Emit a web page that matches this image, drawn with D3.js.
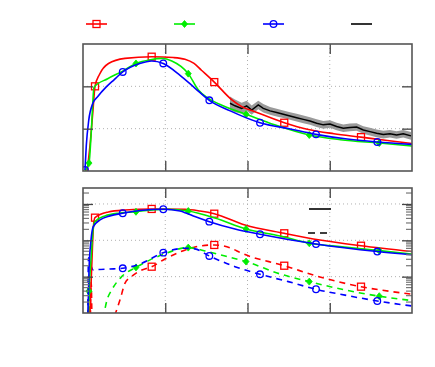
<!DOCTYPE html>
<html>
<head>
<meta charset="utf-8">
<script src="https://cdn.jsdelivr.net/npm/d3@7"></script>
<style>
  body { margin: 0; background: #fff; }
  svg { display: block; }
</style>
</head>
<body>
<div id="chart"></div>
<script>
// ticks (no labels in the picture)
const xTicks = [10, 20, 30];
const topYTicks = [0.5, 1.0];
const botYTicks = [0.01, 0.1, 1];

// [x, y, marker?]  -- upper panel, linear
const redTop = [[0.5,0],[0.85,0.3],[1.2,0.7],[1.46,1.0,1],[2.0,1.14],[3.1,1.27],[5.1,1.33],[8.35,1.35,1],[11.0,1.34],[12.4,1.32],[13.5,1.27],[14.4,1.19],[15.96,1.05,1],[18.1,0.84],[19.3,0.76],[20.9,0.70],[24.47,0.57,1],[27.4,0.49],[30.5,0.44],[33.8,0.40,1],[37,0.36],[40,0.325]];
const greenTop = [[0.24,0],[0.73,0.094,1],[1.0,0.45],[1.34,0.99],[3.0,1.09],[4.83,1.18],[6.44,1.27,1],[8.2,1.315],[9.6,1.33],[10.8,1.30],[12.8,1.15,1],[14.0,0.96],[15.2,0.86],[17.3,0.76],[19.82,0.67,1],[23.3,0.545],[27.51,0.425,1],[31.3,0.37],[36.02,0.33,1],[40,0.295]];
const blueTop = [[0.24,0.012,1],[0.4,0.3],[0.7,0.6],[1.2,0.80],[1.8,0.88],[2.8,0.99],[3.8,1.08],[4.83,1.17,1],[6.9,1.27],[8.35,1.30],[9.76,1.27,1],[11.8,1.13],[13.6,0.98],[15.36,0.835,1],[17.9,0.71],[21.52,0.57,1],[25.2,0.496],[28.33,0.433,1],[31.9,0.38],[35.78,0.343,1],[40,0.315]];
const blackTop = [[17.87,0.80],[18.48,0.77],[19.29,0.74],[19.9,0.77],[20.51,0.72],[21.31,0.78],[21.92,0.74],[22.74,0.71],[23.55,0.69],[24.35,0.67],[25.17,0.65],[25.98,0.63],[26.79,0.61],[27.6,0.59],[28.41,0.565],[29.22,0.545],[30.03,0.555],[30.84,0.525],[31.65,0.505],[32.46,0.515],[33.27,0.52],[34.08,0.485],[34.89,0.465],[35.7,0.445],[36.51,0.43],[37.32,0.44],[38.13,0.425],[38.94,0.44],[39.88,0.415]];
const blackErr = [0.08,0.075,0.065,0.06,0.055,0.05,0.05,0.045,0.045,0.045,0.045,0.045,0.045,0.045,0.045,0.045,0.045,0.045,0.045,0.045,0.045,0.045,0.045,0.045,0.045,0.045,0.045,0.045,0.045];

// lower panel, log scale: solid and dashed
const redLo = [[0.8,5e-4],[1.09,0.029],[1.28,0.26],[1.46,0.42,1],[3.08,0.60],[5.11,0.684],[8.35,0.73,1],[12.4,0.715],[14.23,0.64],[15.96,0.54,1],[19.7,0.264],[24.47,0.156,1],[28.8,0.102],[33.8,0.071,1],[40,0.049]];
const greenLo = [[0.6,5e-4],[0.73,0.004,1],[0.97,0.029],[1.22,0.19],[1.46,0.33],[2.67,0.47],[4.5,0.565],[6.44,0.61,1],[8.75,0.70],[10.34,0.715],[12.8,0.64,1],[16.05,0.41],[19.82,0.205,1],[23.95,0.132],[27.51,0.083,1],[31.5,0.066],[36.02,0.052,1],[40,0.042]];
const blueLo = [[0.57,5e-4],[0.73,0.015],[0.97,0.10],[1.25,0.237],[2.07,0.363],[3.28,0.47],[4.83,0.555,1],[6.93,0.66],[9.76,0.715,1],[11.8,0.64],[12.6,0.555],[13.6,0.45],[15.36,0.326,1],[18.48,0.205],[21.52,0.147,1],[28.33,0.079,1],[35.78,0.049,1],[40,0.04]];
const redDash = [[0.85,1e-4],[1.0,0.007],[1.15,1e-4],[3.8,8e-4],[4.5,0.0023],[5.11,0.0066],[5.84,0.0098],[6.93,0.0144],[8.35,0.0188,1],[9.97,0.0307],[11.79,0.0477],[13.62,0.0656],[15.96,0.0745,1],[17.9,0.062],[19.3,0.044],[24.47,0.020,1],[28.8,0.0098],[33.8,0.0053,1],[40,0.0033]];
const greenDash = [[0.56,1e-4],[0.68,0.009],[0.73,0.004,1],[0.9,1e-4],[2.48,8e-4],[2.92,0.0023],[3.49,0.0043],[4.7,0.01],[6.44,0.018,1],[8.15,0.029],[9.57,0.0395],[12.8,0.063,1],[14.84,0.051],[17.27,0.037],[19.82,0.026,1],[23.95,0.0119],[27.51,0.0073,1],[31.86,0.0043],[36.02,0.0029,1],[40,0.0022]];
const blueDash = [[0.56,1e-4],[0.67,0.033],[0.97,0.0197],[1.25,0.0153],[1.82,0.0157],[3.28,0.0162],[4.83,0.017,1],[7.14,0.0234],[9.76,0.0457,1],[12.4,0.0604],[13.6,0.058],[15.36,0.0371,1],[18.48,0.0188],[21.52,0.0116,1],[24.96,0.0073],[28.33,0.0045,1],[31.86,0.0031],[35.78,0.00214,1],[40,0.00156]];

const RED = "#ff0000", GREEN = "#00ee00", BLUE = "#0000ff";

const w = 435, h = 367;
const left = 83, right = 412;

const svg = d3.select("#chart").append("svg")
  .attr("width", w).attr("height", h);

const x = d3.scaleLinear().domain([0, 40]).range([left, right]);
const yTop = d3.scaleLinear().domain([0, 1.5]).range([171, 44]);
const yBot = d3.scaleLog().domain([0.001, 2.75]).range([313, 188]);

function panel(id, y, yTicks, top, bottom) {
  const g = svg.append("g");
  svg.append("clipPath").attr("id", id)
    .append("rect").attr("x", left).attr("y", top)
    .attr("width", right - left).attr("height", bottom - top);

  // dotted grid
  g.selectAll(".gx").data(xTicks).enter().append("line")
    .attr("x1", d => x(d)).attr("x2", d => x(d))
    .attr("y1", top).attr("y2", bottom)
    .attr("stroke", "#b0b0b0").attr("stroke-dasharray", "1,3");
  g.selectAll(".gy").data(yTicks).enter().append("line")
    .attr("x1", left).attr("x2", right)
    .attr("y1", d => y(d)).attr("y2", d => y(d))
    .attr("stroke", "#b0b0b0").attr("stroke-dasharray", "1,3");
  return g;
}

function frame(y, yTicks, top, bottom, isLog) {
  const g = svg.append("g");
  const tk = (sel) => { sel.select(".domain").remove(); sel.selectAll("line").attr("stroke", "#444").attr("stroke-width", 1.3); };
  g.append("g").attr("transform", `translate(0,${bottom})`)
    .call(d3.axisBottom(x).tickValues(xTicks).tickSize(-10).tickFormat("")).call(tk);
  g.append("g").attr("transform", `translate(0,${top})`)
    .call(d3.axisTop(x).tickValues(xTicks).tickSize(-10).tickFormat("")).call(tk);
  if (isLog) {
    const minor = y.ticks().filter(v => yTicks.indexOf(v) < 0 && v > y.domain()[0]);
    [[left, 1], [right, -1]].forEach(([px, s]) => {
      g.selectAll(null).data(minor).enter().append("line")
        .attr("x1", px).attr("x2", px + 6 * s)
        .attr("y1", d => y(d)).attr("y2", d => y(d))
        .attr("stroke", "#777").attr("stroke-width", 1.2);
    });
  }
  g.append("g").attr("transform", `translate(${left},0)`)
    .call(d3.axisLeft(y).tickValues(yTicks).tickSize(-10).tickFormat("")).call(tk);
  g.append("g").attr("transform", `translate(${right},0)`)
    .call(d3.axisRight(y).tickValues(yTicks).tickSize(-10).tickFormat("")).call(tk);
  g.append("rect").attr("x", left).attr("y", top)
    .attr("width", right - left).attr("height", bottom - top)
    .attr("fill", "none").attr("stroke", "#555").attr("stroke-width", 1.6);
}

function drawMarker(g, type, color, cx, cy) {
  if (type === "square") {
    g.append("rect").attr("x", cx - 3.5).attr("y", cy - 3.5).attr("width", 7).attr("height", 7)
      .attr("fill", "none").attr("stroke", color).attr("stroke-width", 1.3);
  } else if (type === "circle") {
    g.append("circle").attr("cx", cx).attr("cy", cy).attr("r", 3.3)
      .attr("fill", "none").attr("stroke", color).attr("stroke-width", 1.3);
  } else {
    g.append("path").attr("d", `M${cx},${cy - 3.5}L${cx + 3},${cy}L${cx},${cy + 3.5}L${cx - 3},${cy}Z`)
      .attr("fill", color).attr("stroke", color).attr("stroke-width", 0.8);
  }
}

function series(g, data, y, color, type, dashed) {
  const line = d3.line().x(d => x(d[0])).y(d => y(d[1])).curve(d3.curveMonotoneX);
  g.append("path").datum(data).attr("d", line)
    .attr("fill", "none").attr("stroke", color).attr("stroke-width", 1.6)
    .attr("stroke-dasharray", dashed ? "6,5" : null);
  data.filter(d => d[2]).forEach(d => drawMarker(g, type, color, x(d[0]), y(d[1])));
}

// upper panel
panel("clipTop", yTop, topYTicks, 44, 171);
const gt = svg.append("g").attr("clip-path", "url(#clipTop)");
const band = blackTop.map((d, i) => [d[0], d[1] - blackErr[i], d[1] + blackErr[i]]);
gt.append("path").datum(band)
  .attr("d", d3.area().x(d => x(d[0])).y0(d => yTop(d[1])).y1(d => yTop(d[2])))
  .attr("fill", "#9a9a9a");
gt.append("path").datum(blackTop)
  .attr("d", d3.line().x(d => x(d[0])).y(d => yTop(d[1])))
  .attr("fill", "none").attr("stroke", "#000").attr("stroke-width", 1.5);
series(gt, redTop, yTop, RED, "square");
series(gt, greenTop, yTop, GREEN, "diamond");
series(gt, blueTop, yTop, BLUE, "circle");
frame(yTop, topYTicks, 44, 171, false);

// lower panel
panel("clipBot", yBot, botYTicks, 188, 313);
const gb = svg.append("g").attr("clip-path", "url(#clipBot)");
series(gb, redDash, yBot, RED, "square", true);
series(gb, greenDash, yBot, GREEN, "diamond", true);
series(gb, blueDash, yBot, BLUE, "circle", true);
series(gb, redLo, yBot, RED, "square");
series(gb, greenLo, yBot, GREEN, "diamond");
series(gb, blueLo, yBot, BLUE, "circle");
frame(yBot, botYTicks, 188, 313, true);

// legends
const lg = svg.append("g");
[[86, RED, "square"], [174, GREEN, "diamond"], [263, BLUE, "circle"], [351, "#000", null]].forEach(([lx, c, t]) => {
  lg.append("line").attr("x1", lx).attr("x2", lx + 21).attr("y1", 24).attr("y2", 24)
    .attr("stroke", c).attr("stroke-width", 1.6);
  if (t) drawMarker(lg, t, c, lx + 10.5, 24);
});
lg.append("line").attr("x1", 309).attr("x2", 331).attr("y1", 209).attr("y2", 209)
  .attr("stroke", "#000").attr("stroke-width", 1.6);
lg.append("line").attr("x1", 308).attr("x2", 327).attr("y1", 233).attr("y2", 233)
  .attr("stroke", "#000").attr("stroke-width", 1.6).attr("stroke-dasharray", "7,5");
</script>
</body>
</html>
